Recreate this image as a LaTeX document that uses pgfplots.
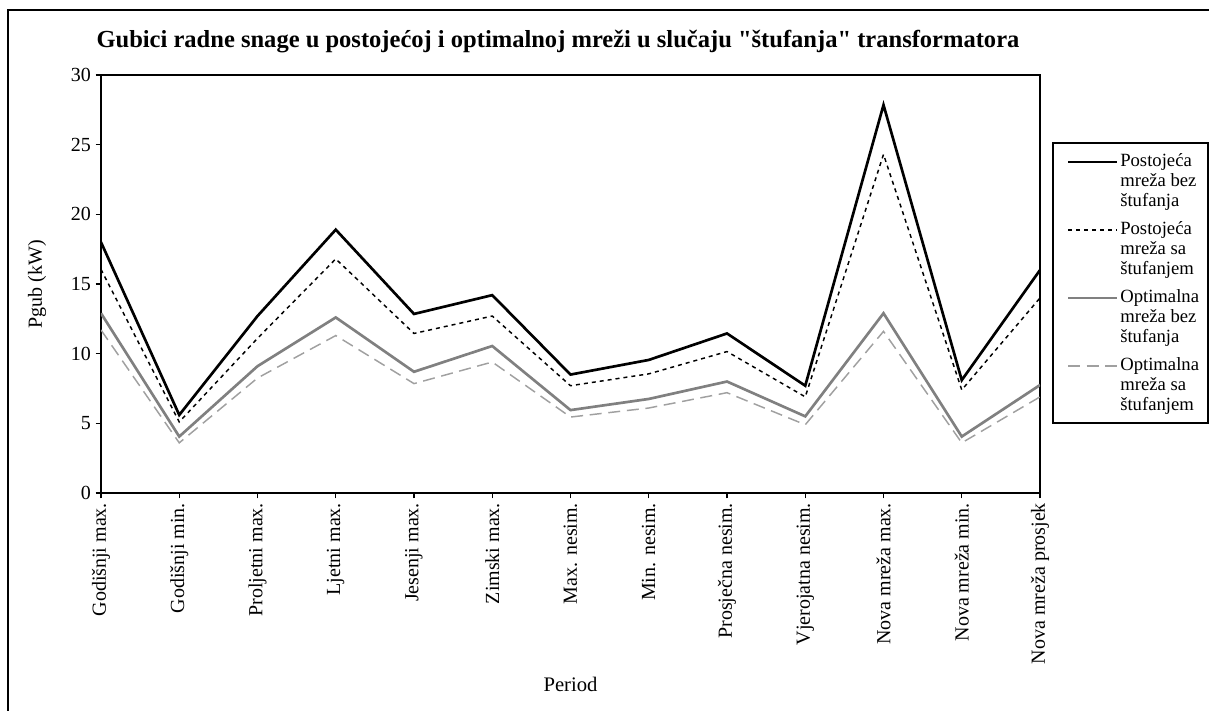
\documentclass[border=0pt]{standalone}
\usepackage{pgfplots}
\pgfplotsset{compat=1.18}
\usepackage{pgfplotstable}
\usepackage{fontspec}
\setmainfont{Liberation Serif}
\definecolor{optgray}{RGB}{128,128,128}
\definecolor{optlight}{RGB}{160,160,160}
\newcommand{\lgd}[3]{\begin{tabular}[t]{@{}l@{}}#1\\#2\\#3\end{tabular}}
\tikzset{
  s1/.style={black, line width=2pt},
  s2/.style={black, line width=1.1pt, dash pattern=on 3pt off 3pt},
  s3/.style={optgray, line width=2pt},
  s4/.style={optlight, line width=1.1pt, dash pattern=on 9pt off 5pt},
}
\pgfplotstableread{
x s1 s2 s3 s4
0 18.0 16.05 12.9 11.7
1 5.6 5.1 4.05 3.6
2 12.7 11.1 9.1 8.25
3 18.9 16.8 12.6 11.3
4 12.85 11.45 8.7 7.85
5 14.2 12.7 10.55 9.4
6 8.5 7.7 5.95 5.45
7 9.55 8.55 6.75 6.1
8 11.45 10.15 8.0 7.2
9 7.7 6.9 5.5 4.9
10 27.85 24.3 12.9 11.6
11 8.1 7.4 4.05 3.6
12 16.0 14.0 7.75 6.9
}\data
\begin{document}
\begin{tikzpicture}
\begin{axis}[
  at={(0,0)}, anchor=south west,
  scale only axis, width=704.25pt, height=313.5pt,
  xmin=0, xmax=12, ymin=0, ymax=30,
  xtick={0,...,12},
  xticklabels={Godišnji max.,Godišnji min.,Proljetni max.,Ljetni max.,Jesenji max.,Zimski max.,Max. nesim.,Min. nesim.,Prosječna nesim.,Vjerojatna nesim.,Nova mreža max.,Nova mreža min.,Nova mreža prosjek},
  ytick={0,5,...,30},
  xtick pos=left, ytick pos=left,
  tick align=outside, major tick length=4pt,
  tick style={black, line width=0.8pt},
  axis line style={black, line width=0.9pt},
  /pgf/number format/assume math mode=true,
  yticklabel style={font=\fontsize{15}{17}\selectfont},
  xticklabel style={font=\fontsize{15}{17}\selectfont, rotate=90, anchor=east},
  xlabel={Period},
  xlabel style={font=\fontsize{15.5}{18}\selectfont, at={(axis description cs:0.5,-0.459)}, anchor=center},
  ylabel={Pgub (kW)},
  ylabel style={font=\fontsize{15}{18}\selectfont, at={(axis description cs:-0.068,0.5)}, anchor=center},
]
\addplot[s1] table[x=x,y=s1]{\data};
\addplot[s2] table[x=x,y=s2]{\data};
\addplot[s3] table[x=x,y=s3]{\data};
\addplot[s4] table[x=x,y=s4]{\data};
\end{axis}
% legend
\draw[black, line width=0.8pt] (714pt,52.5pt) rectangle (830.25pt,262.5pt);
\begin{scope}[every node/.style={font=\fontsize{14}{15}\selectfont, anchor=base west, inner sep=0pt}]
\draw[s1] (725.25pt,248.25pt) -- (762pt,248.25pt);
\node at (764.25pt,245pt) {\lgd{Postojeća}{mreža bez}{štufanja}};
\draw[s2] (725.25pt,197.25pt) -- (762pt,197.25pt);
\node at (764.25pt,194pt) {\lgd{Postojeća}{mreža sa}{štufanjem}};
\draw[s3] (725.25pt,146.25pt) -- (762pt,146.25pt);
\node at (764.25pt,143pt) {\lgd{Optimalna}{mreža bez}{štufanja}};
\draw[s4] (725.25pt,95.25pt) -- (762pt,95.25pt);
\node at (764.25pt,92pt) {\lgd{Optimalna}{mreža sa}{štufanjem}};
\end{scope}
\node[font=\fontsize{18.4}{20}\selectfont\bfseries] at (342.75pt,338.25pt) {Gubici radne snage u postojećoj i optimalnoj mreži u slučaju \textquotedbl štufanja\textquotedbl{} transformatora};
\draw[black, line width=1.2pt] (-69.75pt,-200pt) -- (-69.75pt,362.25pt) -- (840pt,362.25pt);
\pgfresetboundingbox
\useasboundingbox (-75.75pt,-162.75pt) rectangle (831pt,369.75pt);
\end{tikzpicture}
\end{document}
